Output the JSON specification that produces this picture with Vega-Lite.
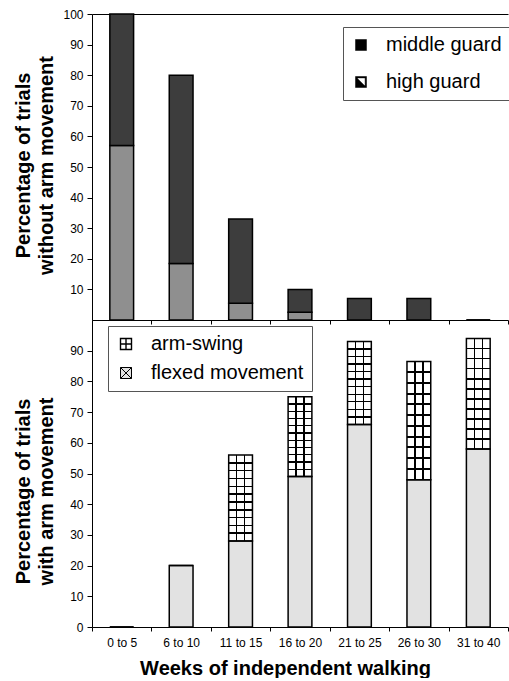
{
  "$schema": "https://vega.github.io/schema/vega-lite/v6.json",
  "autosize": {"type": "pad"},
  "padding": {"left": 13, "top": 8, "right": 0, "bottom": 0},
  "background": "white",
  "spacing": 0,
  "bounds": "flush",
  "resolve": {
    "scale": {"fill": "independent", "x": "independent", "y": "independent"},
    "legend": {"fill": "independent"},
    "axis": {"x": "independent", "y": "independent"}
  },
  "config": {
    "font": "Liberation Sans",
    "view": {"stroke": null},
    "axis": {
      "labelFont": "Liberation Sans",
      "titleFont": "Liberation Sans",
      "labelFontSize": 12,
      "labelColor": "black",
      "labelOverlap": false,
      "titleColor": "black",
      "titleFontSize": 20,
      "titleFontWeight": "bold",
      "titleLineHeight": 23,
      "domainColor": "black",
      "tickColor": "black",
      "grid": false
    },
    "legend": {
      "labelFont": "Liberation Sans",
      "labelFontSize": 20,
      "labelColor": "black",
      "labelLimit": 400,
      "labelOffset": 15,
      "symbolSize": 121,
      "symbolType": "square",
      "strokeColor": "#555555",
      "fillColor": "white",
      "padding": 8
    }
  },
  "vconcat": [
    {
      "width": 416,
      "height": 306,
      "data": {"values": [
        {"week": "0 to 5", "type": "high guard", "value": 57},
        {"week": "0 to 5", "type": "middle guard", "value": 43},
        {"week": "6 to 10", "type": "high guard", "value": 18.5},
        {"week": "6 to 10", "type": "middle guard", "value": 61.5},
        {"week": "11 to 15", "type": "high guard", "value": 5.5},
        {"week": "11 to 15", "type": "middle guard", "value": 27.5},
        {"week": "16 to 20", "type": "high guard", "value": 2.5},
        {"week": "16 to 20", "type": "middle guard", "value": 7.5},
        {"week": "21 to 25", "type": "high guard", "value": 0},
        {"week": "21 to 25", "type": "middle guard", "value": 7},
        {"week": "26 to 30", "type": "high guard", "value": 0},
        {"week": "26 to 30", "type": "middle guard", "value": 7},
        {"week": "31 to 40", "type": "high guard", "value": 0},
        {"week": "31 to 40", "type": "middle guard", "value": 0}
      ]},
      "transform": [{"stack": "value", "groupby": ["week"], "sort": [{"field": "type", "order": "ascending"}], "as": ["v0", "v1"]}],
      "mark": {"type": "bar", "width": {"band": 0.4}, "stroke": "black", "strokeWidth": 1.5},
      "encoding": {
        "x": {"field": "week", "type": "nominal", "sort": null,
          "scale": {"domain": ["0 to 5", "6 to 10", "11 to 15", "16 to 20", "21 to 25", "26 to 30", "31 to 40"], "paddingInner": 0, "paddingOuter": 0},
          "axis": {"labels": false, "title": null, "tickBand": "extent", "tickSize": 4}},
        "y": {"field": "v1", "type": "quantitative", "scale": {"domain": [0, 100], "nice": false},
          "axis": {"values": [10, 20, 30, 40, 50, 60, 70, 80, 90, 100], "tickSize": 5, "labelPadding": 4,
            "labelOverlap": false, "labelFlush": false,
            "grid": true, "gridColor": "black", "gridWidth": 1,
            "gridOpacity": {"condition": {"test": "datum.value === 100", "value": 1}, "value": 0},
            "title": ["Percentage of trials", "without arm movement"],
            "titleAngle": -90, "titleBaseline": "bottom", "titleAlign": "center", "titleX": -59, "titleY": 151}},
        "y2": {"field": "v0"},
        "fill": {
          "condition": [
            {"test": "datum.type === 'middle guard'", "value": "#3d3d3d"},
            {"test": "datum.type === 'high guard'", "value": "#8f8f8f"}
          ],
          "field": "type", "type": "nominal",
          "scale": {"domain": ["middle guard", "high guard"], "range": ["black", "black"]},
          "legend": {"orient": "none", "legendX": 251, "legendY": 13, "title": null, "direction": "vertical", "rowPadding": 17,
            "symbolStrokeWidth": 0.5, "symbolStrokeColor": "black",
            "encode": {"symbols": {"update": {
              "shape": {"signal": "datum.value === 'high guard' ? 'M-1,-1L1,-1L1,1L-1,1Z M-0.75,-0.75L-0.75,0.75L0.75,0.75L0.75,-0.75Z M-0.75,-0.75L-0.75,0.75L0.75,0.75Z' : 'square'"}
            }}}}}
      }
    },
    {
      "width": 416,
      "height": 307,
      "data": {"values": [
        {"week": "0 to 5", "type": "flexed movement", "value": 0},
        {"week": "0 to 5", "type": "arm-swing", "value": 0},
        {"week": "6 to 10", "type": "flexed movement", "value": 20},
        {"week": "6 to 10", "type": "arm-swing", "value": 0},
        {"week": "11 to 15", "type": "flexed movement", "value": 28},
        {"week": "11 to 15", "type": "arm-swing", "value": 28},
        {"week": "16 to 20", "type": "flexed movement", "value": 49},
        {"week": "16 to 20", "type": "arm-swing", "value": 26},
        {"week": "21 to 25", "type": "flexed movement", "value": 66},
        {"week": "21 to 25", "type": "arm-swing", "value": 27},
        {"week": "26 to 30", "type": "flexed movement", "value": 48},
        {"week": "26 to 30", "type": "arm-swing", "value": 38.5},
        {"week": "31 to 40", "type": "flexed movement", "value": 58},
        {"week": "31 to 40", "type": "arm-swing", "value": 36}
      ]},
      "transform": [{"stack": "value", "groupby": ["week"], "sort": [{"field": "type", "order": "descending"}], "as": ["v0", "v1"]}],
      "encoding": {
        "x": {"field": "week", "type": "nominal", "sort": null,
          "scale": {"domain": ["0 to 5", "6 to 10", "11 to 15", "16 to 20", "21 to 25", "26 to 30", "31 to 40"], "paddingInner": 0, "paddingOuter": 0},
          "axis": {"labelAngle": 0, "tickBand": "extent", "tickSize": 4, "labelPadding": 6,
            "title": "Weeks of independent walking", "titlePadding": 10, "titleX": 193}},
        "y": {"field": "v1", "type": "quantitative", "scale": {"domain": [0, 100], "nice": false},
          "axis": {"values": [0, 10, 20, 30, 40, 50, 60, 70, 80, 90], "tickSize": 5, "labelPadding": 4,
            "labelOverlap": false, "labelFlush": false,
            "title": ["Percentage of trials", "with arm movement"],
            "titleAngle": -90, "titleBaseline": "bottom", "titleAlign": "center", "titleX": -59, "titleY": 171}},
        "y2": {"field": "v0"}
      },
      "layer": [
        {
          "mark": {"type": "bar", "width": {"band": 0.4}, "strokeWidth": 0},
          "encoding": {
            "fill": {"field": "type", "type": "nominal",
              "scale": {"domain": ["arm-swing", "flexed movement"], "range": ["white", "#e2e2e2"]},
              "legend": {"orient": "none", "legendX": 16, "legendY": 6, "title": null, "direction": "vertical", "rowPadding": 9,
                "encode": {"symbols": {"update": {
                  "shape": {"signal": "datum.value === 'arm-swing' ? 'M-1,-1H1V1H-1Z M0,-1V1 M-1,0H1' : 'M-1,-1H1V1H-1Z M-1,-1L1,1 M1,-1L-1,1'"},
                  "stroke": {"value": "black"},
                  "strokeWidth": {"signal": "datum.value === 'arm-swing' ? 1.4 : 1"}
                }}}}}
          }
        },
        {
          "transform": [{"filter": "datum.type === 'arm-swing'"}],
          "mark": {"type": "bar", "width": {"band": 0.4}, "strokeWidth": 0,
            "fill": {"gradient": "linear", "x1": 0, "y1": 0, "x2": 0, "y2": 1, "stops": [
              {"offset": 0, "color": "white"},
              {"offset": 0.0824, "color": "white"}, {"offset": 0.0824, "color": "black"}, {"offset": 0.0994, "color": "black"}, {"offset": 0.0994, "color": "white"},
              {"offset": 0.1733, "color": "white"}, {"offset": 0.1733, "color": "black"}, {"offset": 0.1903, "color": "black"}, {"offset": 0.1903, "color": "white"},
              {"offset": 0.2642, "color": "white"}, {"offset": 0.2642, "color": "black"}, {"offset": 0.2812, "color": "black"}, {"offset": 0.2812, "color": "white"},
              {"offset": 0.3551, "color": "white"}, {"offset": 0.3551, "color": "black"}, {"offset": 0.3721, "color": "black"}, {"offset": 0.3721, "color": "white"},
              {"offset": 0.4460, "color": "white"}, {"offset": 0.4460, "color": "black"}, {"offset": 0.4630, "color": "black"}, {"offset": 0.4630, "color": "white"},
              {"offset": 0.5370, "color": "white"}, {"offset": 0.5370, "color": "black"}, {"offset": 0.5540, "color": "black"}, {"offset": 0.5540, "color": "white"},
              {"offset": 0.6279, "color": "white"}, {"offset": 0.6279, "color": "black"}, {"offset": 0.6449, "color": "black"}, {"offset": 0.6449, "color": "white"},
              {"offset": 0.7188, "color": "white"}, {"offset": 0.7188, "color": "black"}, {"offset": 0.7358, "color": "black"}, {"offset": 0.7358, "color": "white"},
              {"offset": 0.8097, "color": "white"}, {"offset": 0.8097, "color": "black"}, {"offset": 0.8267, "color": "black"}, {"offset": 0.8267, "color": "white"},
              {"offset": 0.9006, "color": "white"}, {"offset": 0.9006, "color": "black"}, {"offset": 0.9176, "color": "black"}, {"offset": 0.9176, "color": "white"},
              {"offset": 1, "color": "white"}
            ]}},
          "encoding": {}
        },
        {
          "transform": [{"filter": "datum.type === 'arm-swing'"}],
          "mark": {"type": "bar", "width": {"band": 0.4}, "strokeWidth": 0,
            "fill": {"gradient": "linear", "x1": 0, "y1": 0, "x2": 1, "y2": 0, "stops": [
              {"offset": 0, "color": "rgba(0,0,0,0)"},
              {"offset": 0.303, "color": "rgba(0,0,0,0)"}, {"offset": 0.303, "color": "black"}, {"offset": 0.363, "color": "black"}, {"offset": 0.363, "color": "rgba(0,0,0,0)"},
              {"offset": 0.637, "color": "rgba(0,0,0,0)"}, {"offset": 0.637, "color": "black"}, {"offset": 0.697, "color": "black"}, {"offset": 0.697, "color": "rgba(0,0,0,0)"},
              {"offset": 1, "color": "rgba(0,0,0,0)"}
            ]}},
          "encoding": {}
        },
        {
          "mark": {"type": "bar", "width": {"band": 0.4}, "fill": null, "fillOpacity": 0, "stroke": "black", "strokeWidth": 1.5},
          "encoding": {}
        }
      ]
    }
  ]
}
